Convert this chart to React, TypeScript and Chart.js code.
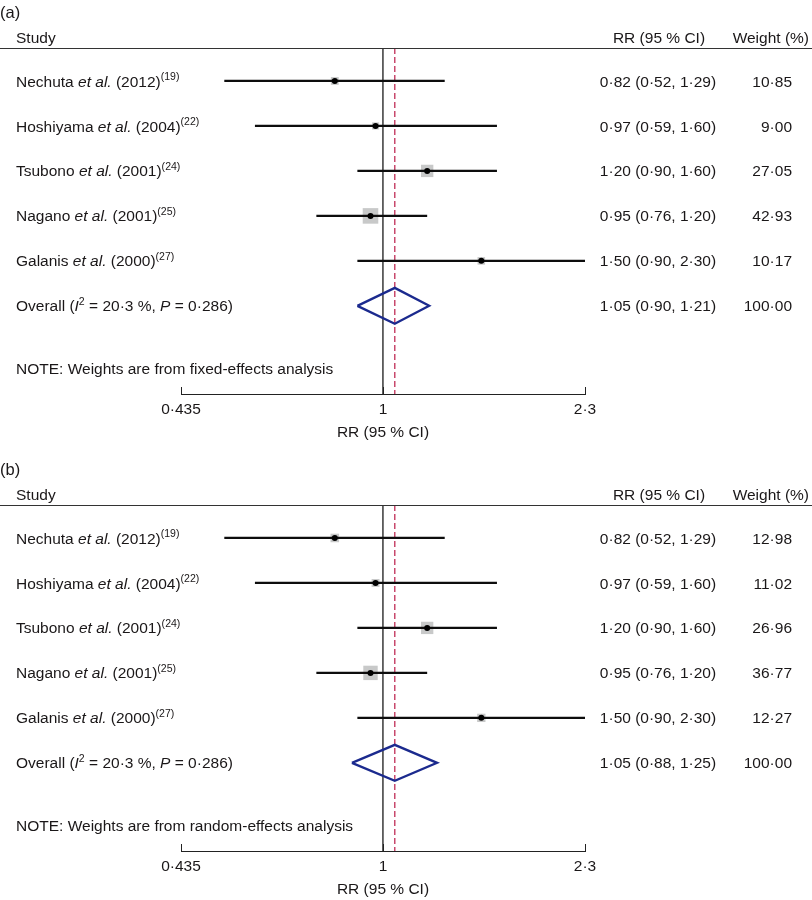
import React, { useEffect, useRef } from 'react';
import { Chart, registerables } from 'chart.js';

Chart.register(...registerables);

// ---------- data ----------
const studyNames = ['Nechuta', 'Hoshiyama', 'Tsubono', 'Nagano', 'Galanis'];
const studyYears = ['2012', '2004', '2001', '2001', '2000'];
const studyRefs = ['19', '22', '24', '25', '27'];
const rrValues = [0.82, 0.97, 1.2, 0.95, 1.5];
const ciLow = [0.52, 0.59, 0.9, 0.76, 0.9];
const ciHigh = [1.29, 1.6, 1.6, 1.2, 2.3];
const weightsFixed = [10.85, 9.0, 27.05, 42.93, 10.17];
const weightsRandom = [12.98, 11.02, 26.96, 36.77, 12.27];
const overallFixed = [1.05, 0.9, 1.21]; // estimate, low, high
const overallRandom = [1.05, 0.88, 1.25];
const overallWeight = 100;
const i2Value = '20·3';
const pValue = '0·286';
const xTicks = [0.435, 1, 2.3];
const nullValue = 1;

// ---------- style ----------
const FONT = '"Liberation Sans", Arial, Helvetica, sans-serif';
const FS = 15.5;
const TXT = '#1a1718';

const fmt2 = (v: number) => v.toFixed(2).replace('.', '·');
const fmtTick = (v: number) => String(v).replace('.', '·');

type Seg = { t: string; i?: boolean; sup?: boolean };

function drawRich(ctx: CanvasRenderingContext2D, segs: Seg[], x: number, yMid: number, align: 'left' | 'right' | 'center', size = FS) {
  const fontOf = (s: Seg) => `${s.i ? 'italic ' : ''}${s.sup ? size * 0.68 : size}px ${FONT}`;
  const widths = segs.map((s) => {
    ctx.font = fontOf(s);
    return ctx.measureText(s.t).width;
  });
  const total = widths.reduce((a, b) => a + b, 0);
  let cx = align === 'left' ? x : align === 'right' ? x - total : x - total / 2;
  const base = yMid + size * 0.36;
  ctx.textAlign = 'left';
  ctx.textBaseline = 'alphabetic';
  ctx.fillStyle = TXT;
  segs.forEach((s, k) => {
    ctx.font = fontOf(s);
    ctx.fillText(s.t, cx, s.sup ? base - size * 0.42 : base);
    cx += widths[k];
  });
}

type PanelProps = {
  label: string;
  weights: number[];
  overall: number[];
  note: string;
  height: number;
  padBottom: number;
};

function ForestPanel({ label, weights, overall, note, height, padBottom }: PanelProps) {
  const ref = useRef<HTMLCanvasElement>(null);

  useEffect(() => {
    const canvas = ref.current!;
    const overallRow = rrValues.length;
    const noteRow = overallRow + 1.4;
    const yMin = -0.733;
    const yMax = 6.96;
    const diamondHalf = 0.4;

    const datasets: any[] = [];
    datasets.push({
      data: rrValues.map((v, i) => ({ x: v, y: i })),
      pointStyle: 'rect',
      pointRadius: weights.map((w) => 1.68 * Math.sqrt(w)),
      backgroundColor: '#c8c9c9',
      borderWidth: 0,
      order: 6,
    });
    datasets.push({
      data: [{ x: nullValue, y: yMin }, { x: nullValue, y: yMax }],
      showLine: true,
      borderColor: '#1a1a1a',
      borderWidth: 1.3,
      pointRadius: 0,
      order: 5,
    });
    datasets.push({
      data: [{ x: overall[0], y: yMin }, { x: overall[0], y: yMax }],
      showLine: true,
      borderColor: '#c43c62',
      borderWidth: 1.4,
      borderDash: [6, 3],
      pointRadius: 0,
      order: 5,
    });
    rrValues.forEach((_, i) => {
      datasets.push({
        data: [{ x: ciLow[i], y: i }, { x: ciHigh[i], y: i }],
        showLine: true,
        borderColor: '#0d0d0d',
        borderWidth: 2.2,
        pointRadius: 0,
        order: 3,
      });
    });
    datasets.push({
      data: [
        { x: overall[1], y: overallRow },
        { x: overall[0], y: overallRow - diamondHalf },
        { x: overall[2], y: overallRow },
        { x: overall[0], y: overallRow + diamondHalf },
        { x: overall[1], y: overallRow },
      ],
      showLine: true,
      borderColor: '#1b2a8e',
      borderWidth: 2.3,
      pointRadius: 0,
      fill: false,
      tension: 0,
      order: 2,
    });
    datasets.push({
      data: rrValues.map((v, i) => ({ x: v, y: i })),
      pointStyle: 'circle',
      pointRadius: 3,
      backgroundColor: '#000',
      borderWidth: 0,
      order: 1,
    });

    const textPlugin = {
      id: 'forestText',
      afterDraw(chart: any) {
        const ctx: CanvasRenderingContext2D = chart.ctx;
        const ys = chart.scales.y;
        const xs = chart.scales.x;
        const ca = chart.chartArea;
        ctx.save();
        // header rule
        ctx.strokeStyle = '#333';
        ctx.lineWidth = 1;
        ctx.beginPath();
        ctx.moveTo(0, Math.round(ca.top) + 0.5);
        ctx.lineTo(chart.width, Math.round(ca.top) + 0.5);
        ctx.stroke();
        // end ticks on axis (pointing up)
        ctx.strokeStyle = '#222';
        xTicks.forEach((v) => {
          const px = Math.round(xs.getPixelForValue(v)) + 0.5;
          ctx.beginPath();
          ctx.moveTo(px, ca.bottom);
          ctx.lineTo(px, ca.bottom - 7);
          ctx.stroke();
        });
        // panel label and headers
        drawRich(ctx, [{ t: label }], 0, ca.top - 36, 'left', 16.5);
        drawRich(ctx, [{ t: 'Study' }], 16, ca.top - 11, 'left');
        drawRich(ctx, [{ t: 'RR (95 % CI)' }], 659, ca.top - 11, 'center');
        drawRich(ctx, [{ t: 'Weight (%)' }], 809, ca.top - 11, 'right');
        // study rows
        studyNames.forEach((name, i) => {
          const py = ys.getPixelForValue(i);
          drawRich(ctx, [
            { t: name + ' ' },
            { t: 'et al.', i: true },
            { t: ' (' + studyYears[i] + ')' },
            { t: '(' + studyRefs[i] + ')', sup: true },
          ], 16, py, 'left');
          drawRich(ctx, [{ t: `${fmt2(rrValues[i])} (${fmt2(ciLow[i])}, ${fmt2(ciHigh[i])})` }], 658, py, 'center');
          drawRich(ctx, [{ t: fmt2(weights[i]) }], 792, py, 'right');
        });
        // overall row
        const oy = ys.getPixelForValue(overallRow);
        drawRich(ctx, [
          { t: 'Overall (' },
          { t: 'I', i: true },
          { t: '2', sup: true },
          { t: ' = ' + i2Value + ' %, ' },
          { t: 'P', i: true },
          { t: ' = ' + pValue + ')' },
        ], 16, oy, 'left');
        drawRich(ctx, [{ t: `${fmt2(overall[0])} (${fmt2(overall[1])}, ${fmt2(overall[2])})` }], 658, oy, 'center');
        drawRich(ctx, [{ t: fmt2(overallWeight) }], 792, oy, 'right');
        // note
        drawRich(ctx, [{ t: note }], 16, ys.getPixelForValue(noteRow), 'left');
        ctx.restore();
      },
    };

    const chart = new Chart(canvas, {
      type: 'scatter',
      data: { datasets },
      options: {
        responsive: false,
        animation: false,
        devicePixelRatio: 1,
        events: [],
        layout: { padding: { left: 181, right: 227, top: 48, bottom: padBottom } },
        plugins: { legend: { display: false }, tooltip: { enabled: false } },
        scales: {
          x: {
            type: 'logarithmic',
            min: xTicks[0],
            max: xTicks[xTicks.length - 1],
            afterBuildTicks: (s: any) => {
              s.ticks = xTicks.map((v) => ({ value: v }));
            },
            afterFit: (s: any) => {
              s.height = 48;
            },
            grid: { display: false, drawTicks: false },
            border: { display: true, color: '#222', width: 1 },
            ticks: {
              color: TXT,
              font: { family: FONT, size: FS },
              padding: 6,
              maxRotation: 0,
              autoSkip: false,
              callback: (v: any) => fmtTick(Number(v)),
            },
            title: {
              display: true,
              text: 'RR (95 % CI)',
              color: TXT,
              font: { family: FONT, size: FS },
              padding: 0,
            },
          },
          y: { type: 'linear', display: false, min: yMin, max: yMax, reverse: true },
        },
      } as any,
      plugins: [textPlugin],
    });
    return () => chart.destroy();
  }, [label, weights, overall, note, height, padBottom]);

  return <canvas ref={ref} width={812} height={height} style={{ display: 'block' }} />;
}

export default function App() {
  return (
    <div style={{ width: 812, background: '#fff' }}>
      <style>{'body{margin:0;background:#fff;}'}</style>
      <ForestPanel
        label="(a)"
        weights={weightsFixed}
        overall={overallFixed}
        note="NOTE: Weights are from fixed-effects analysis"
        height={457}
        padBottom={15}
      />
      <ForestPanel
        label="(b)"
        weights={weightsRandom}
        overall={overallRandom}
        note="NOTE: Weights are from random-effects analysis"
        height={443}
        padBottom={1}
      />
    </div>
  );
}
